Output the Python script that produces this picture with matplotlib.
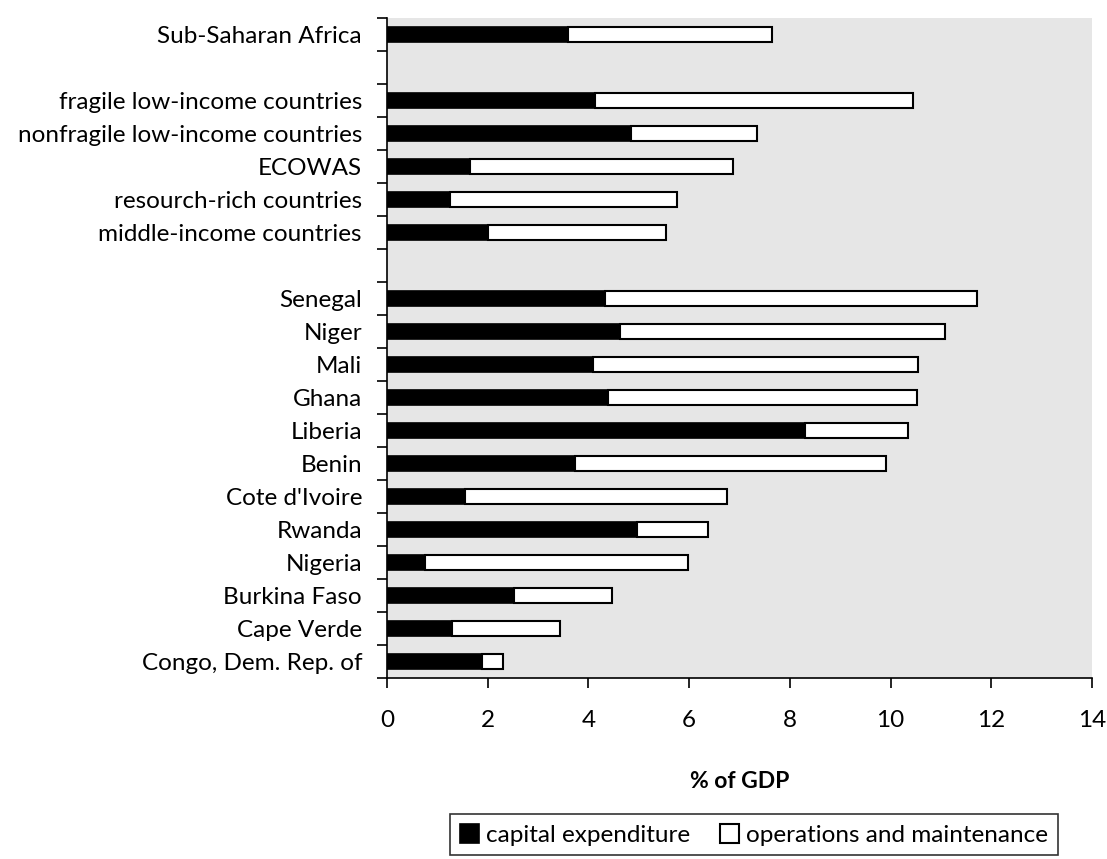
import matplotlib.pyplot as plt
import numpy as np

plt.rcParams['font.family'] = ['Lato', 'DejaVu Sans']

# three groups of rows, separated by an empty row in the chart
groups = [
    ['Sub-Saharan Africa'],
    ['fragile low-income countries', 'nonfragile low-income countries', 'ECOWAS',
     'resourch-rich countries', 'middle-income countries'],
    ['Senegal', 'Niger', 'Mali', 'Ghana', 'Liberia', 'Benin', "Cote d'Ivoire",
     'Rwanda', 'Nigeria', 'Burkina Faso', 'Cape Verde', 'Congo, Dem. Rep. of'],
]
capital = [
    [3.59],
    [4.13, 4.84, 1.65, 1.25, 2.00],
    [4.33, 4.63, 4.10, 4.39, 8.31, 3.73, 1.55, 4.96, 0.75, 2.52, 1.30, 1.89],
]
om = [
    [4.05],
    [6.32, 2.51, 5.23, 4.51, 3.55],
    [7.39, 6.46, 6.44, 6.13, 2.04, 6.17, 5.21, 1.42, 5.23, 1.95, 2.13, 0.42],
]

# row positions: one empty slot between groups
labels, cap_vals, om_vals, ypos = [], [], [], []
row = 0
for g, c, o in zip(groups, capital, om):
    for name, cv, ov in zip(g, c, o):
        labels.append(name)
        cap_vals.append(cv)
        om_vals.append(ov)
        ypos.append(row)
        row += 1
    row += 1
nrows = row - 1
ypos = np.array(ypos)

fs = 17.5
fig = plt.figure(figsize=(11.07, 8.59), dpi=100)
ax = fig.add_axes([387 / 1107, 1 - 678 / 859, 705 / 1107, 660 / 859])
ax.set_facecolor('#e6e6e6')

h = 0.47
ax.barh(ypos, cap_vals, height=h, color='black', edgecolor='black', linewidth=1.2,
        label='capital expenditure')
ax.barh(ypos, om_vals, left=cap_vals, height=h, color='white', edgecolor='black',
        linewidth=1.5, label='operations and maintenance')

ax.set_ylim(nrows - 0.5, -0.5)
ax.set_xlim(0, 14)
ax.set_xticks(np.arange(0, 15, 2))
ax.set_yticks(ypos)
ax.set_yticklabels(labels, fontsize=fs)
ax.set_yticks(np.arange(-0.5, nrows, 1.0), minor=True)
ax.tick_params(axis='y', which='major', length=0, pad=18)
ax.tick_params(axis='y', which='minor', length=7, width=1.2, direction='out')
ax.tick_params(axis='x', length=7, width=1.2, direction='out', labelsize=fs, pad=16)

for s in ['top', 'right']:
    ax.spines[s].set_visible(False)
for s in ['left', 'bottom']:
    ax.spines[s].set_linewidth(1.2)

ax.set_xlabel('% of GDP', fontsize=fs - 1, fontweight='bold', labelpad=29)

leg = fig.legend(loc='upper center', bbox_to_anchor=(754 / 1107, 1 - 807 / 859), ncol=2,
                 fontsize=fs, frameon=True, fancybox=False, edgecolor='black',
                 handlelength=0.8, handleheight=0.8, handletextpad=0.3,
                 columnspacing=1.2, borderpad=0.4, borderaxespad=0.3)
leg.get_frame().set_linewidth(1.2)

fig.savefig('out.png', dpi=100)
